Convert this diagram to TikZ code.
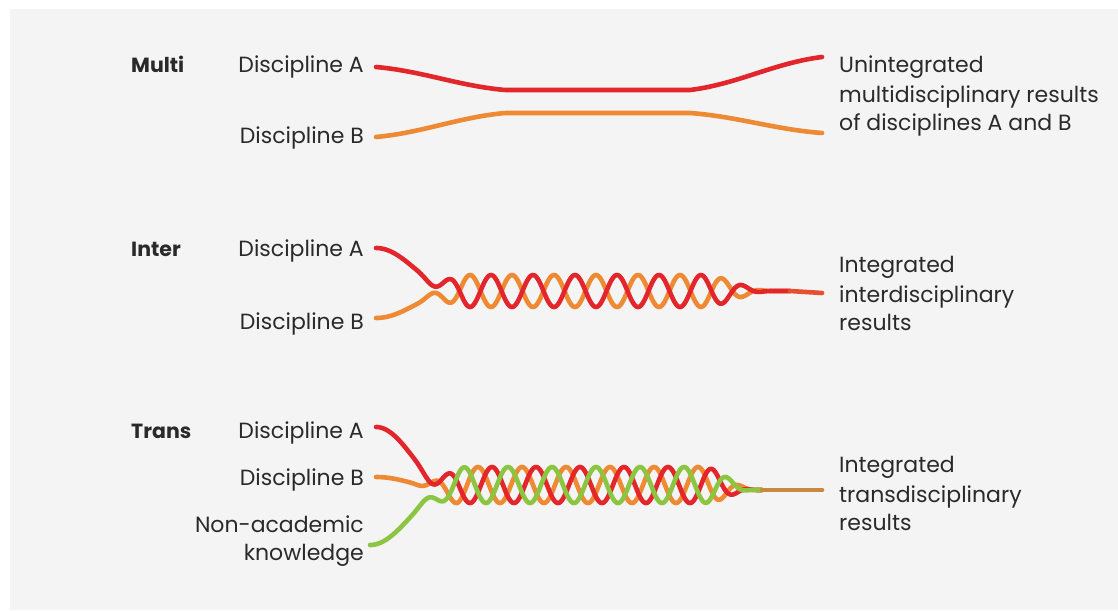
\documentclass[tikz,border=0pt]{standalone}
\usepackage{fontspec}
\setmainfont{Poppins}
\definecolor{bgc}{HTML}{F4F4F4}
\definecolor{redc}{HTML}{E2262C}
\definecolor{orc}{HTML}{EE8A34}
\definecolor{grc}{HTML}{8CC541}
\definecolor{tanc}{HTML}{C88A3E}
\definecolor{mixc}{HTML}{E5502E}
\definecolor{txt}{HTML}{2A2A2A}
\begin{document}
\begin{tikzpicture}[x=1pt,y=-1pt,
  declare function={rmp(\t,\p,\q)=0.5*(1-cos(180*min(max((\t-\p)/(\q-\p),0),1)));},
  lbl/.style={font=\fontsize{22}{26}\selectfont, text=txt, inner sep=0pt},
  head/.style={lbl, font=\fontsize{20.5}{25}\selectfont\bfseries, anchor=base west},
  leftlbl/.style={lbl, anchor=base east},
  rightlbl/.style={lbl, anchor=base west},
  strand/.style={line width=4.6pt, line cap=round, line join=round},
]
\useasboundingbox (0,0) rectangle (1118,610);
\fill[white] (0,0) rectangle (1118,610);
\fill[bgc] (10,9) rectangle (1118,610);

% ---------------- Multi ----------------
\node[head] (multi) at (131,73) {Multi};
\node[leftlbl] (mA) at (364,73) {Discipline A};
\node[leftlbl] (mB) at (364,143) {Discipline B};
\node[rightlbl] (mR1) at (839,73) {Unintegrated};
\node[rightlbl] (mR2) at (839,102) {multidisciplinary results};
\node[rightlbl] (mR3) at (839,130) {of disciplines A and B};
\draw[strand, redc] plot[domain=376:822, samples=200, variable=\x]
  (\x, {67 + 23*(0.5*rmp(\x,376,505)+0.5*min((\x-376)/129,1)) - 33*(0.5*rmp(\x,690,822)+0.5*max((\x-690)/132,0))});
\draw[strand, orc] plot[domain=376:822, samples=200, variable=\x]
  (\x, {137 - 24*(0.5*rmp(\x,376,505)+0.5*min((\x-376)/129,1)) + 20*(0.5*rmp(\x,690,822)+0.5*max((\x-690)/132,0))});

% ---------------- Inter ----------------
\node[head] (inter) at (131,256) {Inter};
\node[leftlbl] (iA) at (364,256) {Discipline A};
\node[leftlbl] (iB) at (364,329) {Discipline B};
\node[rightlbl] (iR1) at (839,272) {Integrated};
\node[rightlbl] (iR2) at (839,302) {interdisciplinary};
\node[rightlbl] (iR3) at (839,330) {results};
\coordinate (iM) at (790,291);
\coordinate (iE) at (822,293);
\draw[strand, orc] plot[domain=376:790, samples=400, variable=\x]
  (\x, {291 + 27*(1-rmp(\x,376,456)) - 16*rmp(\x,414,470)*(1-rmp(\x,700,772))*sin(360/42*(\x-459.5))});
\draw[strand, redc] plot[domain=376:790, samples=400, variable=\x]
  (\x, {291 - 43*(1-rmp(\x,376,456)) + 16*rmp(\x,414,470)*(1-rmp(\x,700,772))*sin(360/42*(\x-459.5))});
\draw[strand, mixc] (iM) -- (iE);

% ---------------- Trans ----------------
\node[head] (trans) at (131,438) {Trans};
\node[leftlbl] (tA) at (364,438) {Discipline A};
\node[leftlbl] (tB) at (364,485) {Discipline B};
\node[leftlbl] (tC1) at (364,532) {Non-academic};
\node[leftlbl] (tC2) at (364,560) {knowledge};
\node[rightlbl] (tR1) at (839,472) {Integrated};
\node[rightlbl] (tR2) at (839,502) {transdisciplinary};
\node[rightlbl] (tR3) at (839,530) {results};
\coordinate (tM) at (762,490);
\coordinate (tE) at (822,490);
\draw[strand, orc] plot[domain=376:762, samples=400, variable=\x]
  (\x, {490 - 5*rmp(\x,430,470) + 5*rmp(\x,700,760) - 13*(1-rmp(\x,376,452)) + 18*rmp(\x,410,466)*(1-rmp(\x,702,755))*sin(360/44*(\x-445))});
\draw[strand, redc] plot[domain=376:762, samples=400, variable=\x]
  (\x, {490 - 5*rmp(\x,430,470) + 5*rmp(\x,700,760) - 63*(1-rmp(\x,376,452)) + 18*rmp(\x,410,466)*(1-rmp(\x,702,755))*sin(360/44*(\x-459))});
\draw[strand, grc] plot[domain=370:762, samples=400, variable=\x]
  (\x, {490 - 5*rmp(\x,430,470) + 5*rmp(\x,700,760) + 55*(1-rmp(\x,370,450)) + 18*rmp(\x,410,466)*(1-rmp(\x,702,755))*sin(360/44*(\x-431))});
\draw[strand, tanc] (tM) -- (tE);
\end{tikzpicture}
\end{document}
